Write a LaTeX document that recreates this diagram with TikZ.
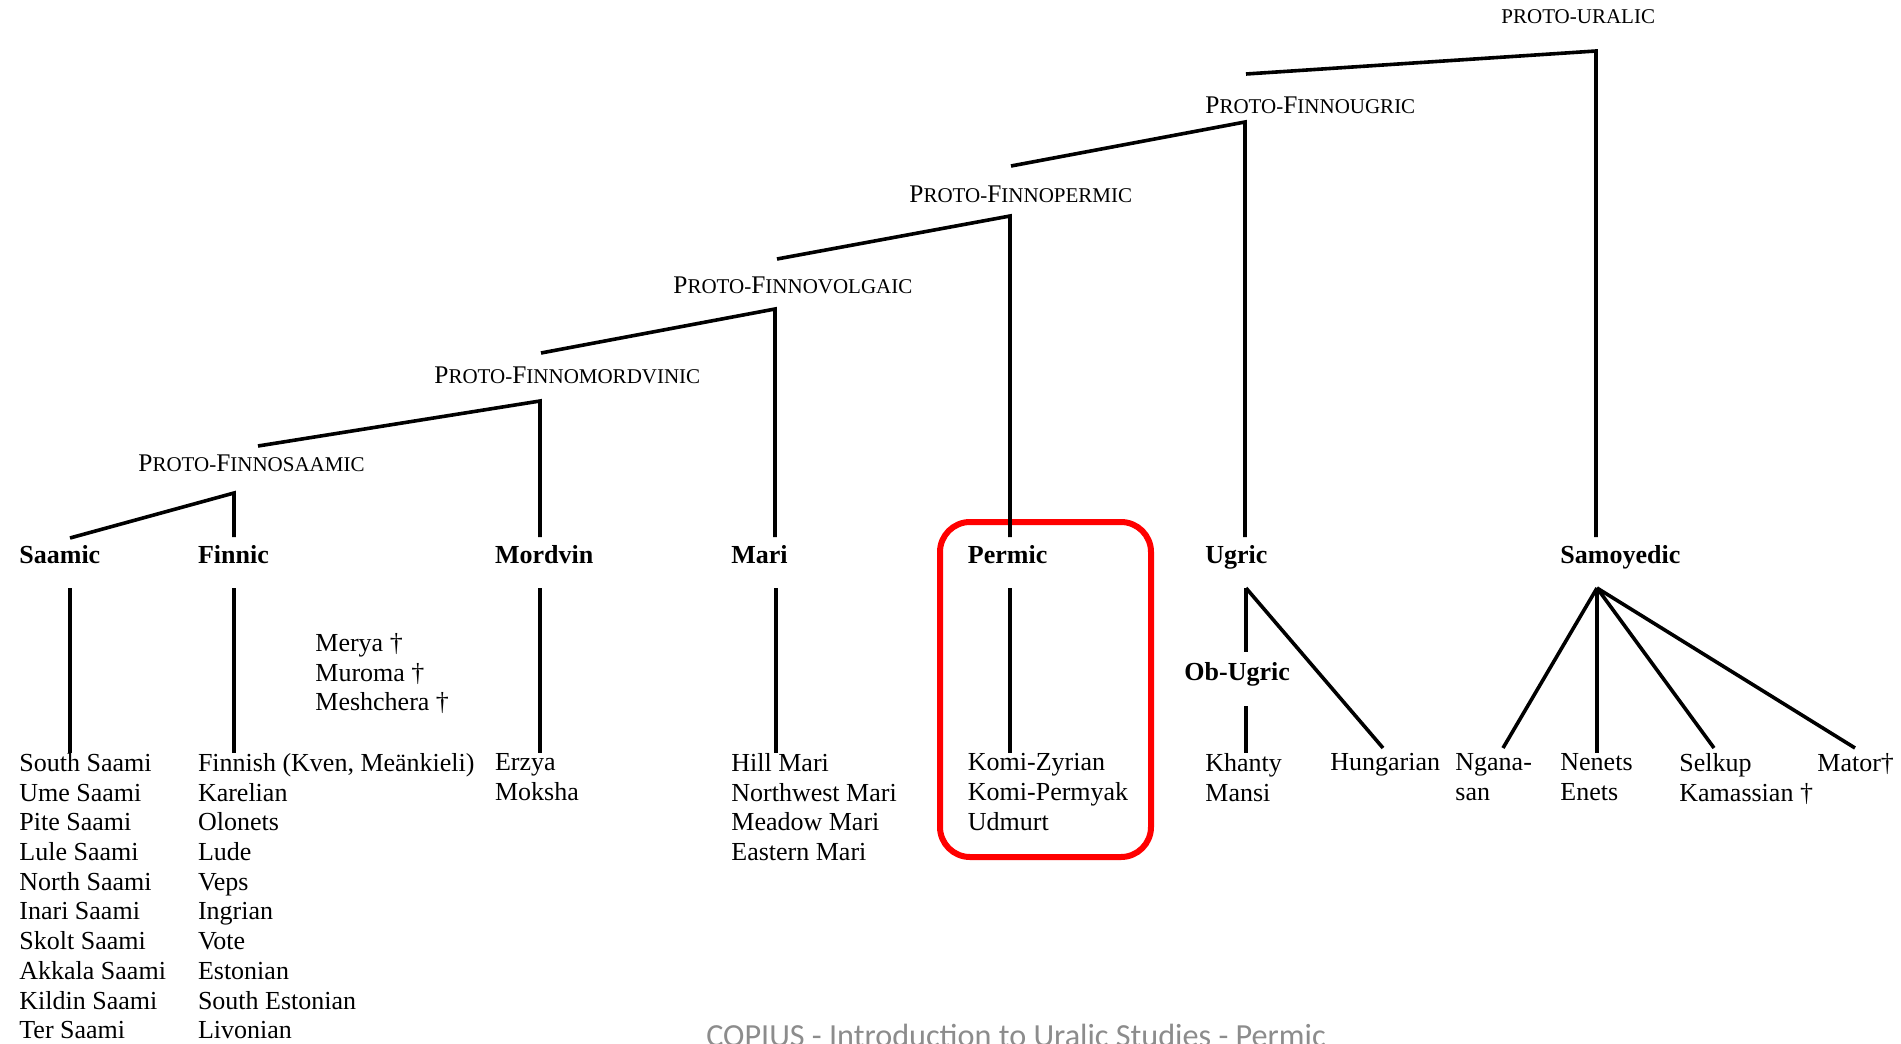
\documentclass[tikz,border=0pt]{standalone}
\usepackage{fontspec}
\setmainfont{Liberation Serif}
\newfontfamily\footfont{Carlito}
\usepackage{tikz}
\definecolor{footgray}{HTML}{8C8C8C}
\newcommand{\capl}[1]{{\fontsize{12.7}{14}\selectfont #1}}
\tikzset{
  proto/.style={anchor=base west, inner sep=0pt, font=\fontsize{10.5}{12}\selectfont},
  branch/.style={anchor=base west, inner sep=0pt, font=\fontsize{13}{15}\selectfont\bfseries},
  langs/.style={anchor=north west, inner sep=0pt, align=left, font=\fontsize{13}{14.85}\selectfont},
  edge/.style={line width=1.8pt},
}

\begin{document}
\begin{tikzpicture}[x=0.5pt,y=-0.5pt]
\useasboundingbox (0,0) rectangle (1901,1044);

\node[proto](pu) at (1501,24){PROTO-URALIC};
\node[proto](pfu) at (1205,113){\capl{P}ROTO-\capl{F}INNOUGRIC};
\node[proto](pfp) at (909,202){\capl{P}ROTO-\capl{F}INNOPERMIC};
\node[proto](pfv) at (673,293){\capl{P}ROTO-\capl{F}INNOVOLGAIC};
\node[proto](pfm) at (434,383){\capl{P}ROTO-\capl{F}INNOMORDVINIC};
\node[proto](pfs) at (138,471){\capl{P}ROTO-\capl{F}INNOSAAMIC};

\node[branch](saamic) at (19,563){Saamic};
\node[branch](finnic) at (197.6,563){Finnic};
\node[branch](mordvin) at (494.7,563){Mordvin};
\node[branch](mari) at (731,563){Mari};
\node[branch](permic) at (967.5,563){Permic};
\node[branch](ugric) at (1205,563){Ugric};
\node[branch](samoyedic) at (1560,563){Samoyedic};
\node[branch](obugric) at (1184,680){Ob-Ugric};

\node[langs](saami) at (19,753){South Saami\\Ume Saami\\Pite Saami\\Lule Saami\\North Saami\\Inari Saami\\Skolt Saami\\Akkala Saami\\Kildin Saami\\Ter Saami};
\node[langs](finnish) at (197.6,753){Finnish (Kven, Meänkieli)\\Karelian\\Olonets\\Lude\\Veps\\Ingrian\\Vote\\Estonian\\South Estonian\\Livonian};
\node[langs](extinct) at (315,633){Merya †\\Muroma †\\Meshchera †};
\node[langs](erzya) at (494.7,753){Erzya\\Moksha};
\node[langs](marilangs) at (731,753){Hill Mari\\Northwest Mari\\Meadow Mari\\Eastern Mari};
\node[langs](komi) at (967.5,753){Komi-Zyrian\\Komi-Permyak\\Udmurt};
\node[langs](khanty) at (1205,753){Khanty\\Mansi};
\node[langs](hungarian) at (1330,753){Hungarian};
\node[langs](nganasan) at (1455,753){Ngana-\\san};
\node[langs](nenets) at (1560,753){Nenets\\Enets};
\node[langs](selkup) at (1679,753){Selkup\\Kamassian †};
\node[langs](mator) at (1817,753){Mator†};

\node[font=\footfont\fontsize{16.1}{18}\selectfont, text=footgray, anchor=base, inner sep=0pt](foot) at (1016,1046){COPIUS - Introduction to Uralic Studies - Permic};

\coordinate (pu top) at (1596,51);
\coordinate (pu end) at (1246,74);
\coordinate (pfu top) at (1245,122);
\coordinate (pfu end) at (1011,166);
\coordinate (pfp top) at (1010,216);
\coordinate (pfp end) at (777,259);
\coordinate (pfv top) at (775,309);
\coordinate (pfv end) at (541,353);
\coordinate (pfm top) at (540,401);
\coordinate (pfm end) at (258,446);
\coordinate (pfs top) at (234,493);

\coordinate (saamic in) at (70,538);
\coordinate (finnic in) at (234,537);
\coordinate (mordvin in) at (540,537);
\coordinate (mari in) at (775,537);
\coordinate (permic in) at (1010,537);
\coordinate (ugric in) at (1245,537);
\coordinate (samoyedic in) at (1596,537);

\coordinate (saamic out) at (70,588);
\coordinate (finnic out) at (234,588);
\coordinate (mordvin out) at (540,588);
\coordinate (mari out) at (776,588);
\coordinate (permic out) at (1010,588);
\coordinate (ugric out) at (1246,588);
\coordinate (samoyedic out) at (1597,588);
\coordinate (obugric in) at (1246,652);
\coordinate (obugric out) at (1246,706);

\draw[red, line width=3pt, rounded corners=15pt] (940,522) rectangle (1151,857);

\draw[edge] (pu end) -- (pu top) -- (samoyedic in);
\draw[edge] (pfu end) -- (pfu top) -- (ugric in);
\draw[edge] (pfp end) -- (pfp top) -- (permic in);
\draw[edge] (pfv end) -- (pfv top) -- (mari in);
\draw[edge] (pfm end) -- (pfm top) -- (mordvin in);
\draw[edge] (saamic in) -- (pfs top) -- (finnic in);

\draw[edge] (saamic out) -- (saamic out |- saami.north);
\draw[edge] (finnic out) -- (finnic out |- finnish.north);
\draw[edge] (mordvin out) -- (mordvin out |- erzya.north);
\draw[edge] (mari out) -- (mari out |- marilangs.north);
\draw[edge] (permic out) -- (permic out |- komi.north);
\draw[edge] (ugric out) -- (obugric in);
\draw[edge] (obugric out) -- (obugric out |- khanty.north);
\draw[edge] (ugric out) -- (1383,748);
\draw[edge] (samoyedic out) -- (1503,748);
\draw[edge] (samoyedic out) -- (samoyedic out |- nenets.north);
\draw[edge] (samoyedic out) -- (1714,748);
\draw[edge] (samoyedic out) -- (1855,748);
\end{tikzpicture}
\end{document}
